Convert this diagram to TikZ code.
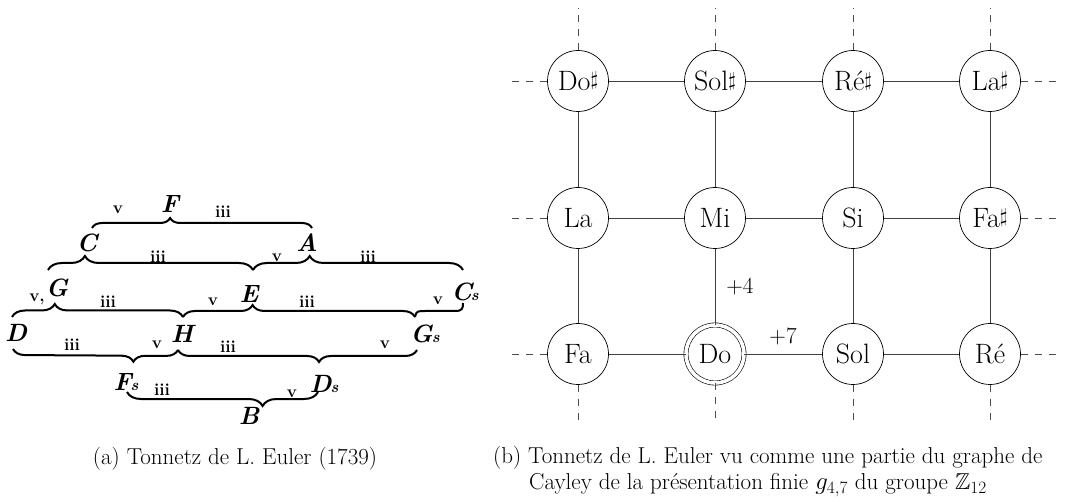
\documentclass[tikz,border=0pt]{standalone}
\usepackage{amssymb}
\usepackage{graphicx}
\usetikzlibrary{decorations.pathreplacing}
\newcommand{\shp}{\raisebox{0.16em}{\scalebox{0.8}{$\sharp$}}}
\tikzset{
  notenode/.style={circle,draw=black,line width=0.7pt,minimum size=61pt,inner sep=0pt,
    font=\fontsize{28}{30}\selectfont,fill=white},
  homenote/.style={notenode,double=white,double distance=3.6pt,line width=0.6pt,minimum size=58pt},
  gedge/.style={draw=black!75,line width=0.8pt},
  stubline/.style={draw=black!70,line width=0.8pt,dash pattern=on 7pt off 7pt},
  steplbl/.style={font=\fontsize{23}{26}\selectfont,inner sep=0pt},
  captxt/.style={font=\fontsize{23}{26}\selectfont,inner sep=0pt},
  eulerltr/.style={font=\fontsize{25}{27}\selectfont\bfseries\itshape,inner sep=0pt},
  eulernum/.style={font=\fontsize{17}{19}\selectfont\bfseries,inner sep=0pt},
  eubrace/.style={draw=black,line width=2pt,decorate,
    decoration={brace,amplitude=#1}},
}
\begin{document}
\begin{tikzpicture}[x=1pt,y=-1pt]
\useasboundingbox (0,0) rectangle (1068,502);

% ---------------- (a) Euler's Tonnetz ----------------
\draw[eubrace=10,decoration={aspect=0.355}] (92,228) -- (312,228);
\draw[eubrace=14,decoration={aspect=0.18}] (48,270) -- (253,270);
\draw[eubrace=14,decoration={aspect=0.27}] (253,270) -- (463,270);
\draw[eubrace=13,decoration={aspect=0.25}] (12,317) -- (183,317);
\draw[eubrace=12,decoration={aspect=0.30}] (183,317) -- (415,317);
\draw[line width=2pt] (415,317) .. controls (416,311) and (418,311) .. (425,311)
   -- (455,311) .. controls (462,311) and (463,309) .. (463,303);
\draw[eubrace=12,decoration={aspect=0.27}] (178,350) -- (13,349);
\draw[eubrace=12,decoration={aspect=0.41}] (417,350) -- (178,350);
\draw[eubrace=14,decoration={aspect=0.29}] (318,392) -- (127,392);

\node[eulernum] (n1) at (118,210) {v};
\node[eulerltr] (eF) at (170,204) {F};
\node[eulernum] (n2) at (223,212) {\textsc{iii}};
\node[eulerltr] (eC) at (87,243) {C};
\node[eulerltr] (eA) at (307,243) {A};
\node[eulernum] (n3) at (158,257) {\textsc{iii}};
\node[eulernum] (n4) at (277,258) {v};
\node[eulernum] (n5) at (368,257) {\textsc{iii}};
\node[eulernum] (n6) at (37,299) {v,};
\node[eulerltr] (eG) at (57,288) {G};
\node[eulernum] (n7) at (108,302) {\textsc{iii}};
\node[eulernum] (n8) at (213,302) {v};
\node[eulerltr] (eE) at (249,294) {E};
\node[eulernum] (n9) at (307,302) {\textsc{iii}};
\node[eulernum] (n10) at (438,301) {v};
\node[eulerltr] (eCs) at (465,292) {C\kern-1pt\fontsize{16}{16}\selectfont s};
\node[eulerltr] (eD) at (16,333) {D};
\node[eulerltr] (eH) at (182,334) {H};
\node[eulerltr] (eGs) at (425,334) {G\kern-1pt\fontsize{16}{16}\selectfont s};
\node[eulernum] (n11) at (72,345) {\textsc{iii}};
\node[eulernum] (n12) at (157,345) {v};
\node[eulernum] (n13) at (228,347) {\textsc{iii}};
\node[eulernum] (n14) at (385,345) {v};
\node[eulerltr] (eFs) at (126,382) {F\kern-1pt\fontsize{16}{16}\selectfont s};
\node[eulerltr] (eDs) at (324,384) {D\kern-1pt\fontsize{16}{16}\selectfont s};
\node[eulernum] (n15) at (162,390) {\textsc{iii}};
\node[eulernum] (n16) at (292,394) {v};
\node[eulerltr] (eB) at (249,416) {B};

\node[captxt,anchor=base] (capa) at (235,464) {(a) Tonnetz de L. Euler (1739)};

% ---------------- (b) Cayley graph ----------------
% row 1
\node[notenode] (cs) at (578,81) {Do\shp};
\node[notenode] (gs) at (715,81) {Sol\shp};
\node[notenode] (ds) at (853,81) {Ré\shp};
\node[notenode] (as) at (990,81) {La\shp};
% row 2
\node[notenode] (a) at (578,218) {La};
\node[notenode] (e) at (715,218) {Mi};
\node[notenode] (b) at (853,218) {Si};
\node[notenode] (fs) at (990,218) {Fa\shp};
% row 3
\node[notenode] (f) at (578,354) {Fa};
\node[homenote] (c) at (715,354) {Do};
\node[notenode] (g) at (853,354) {Sol};
\node[notenode] (d) at (990,354) {Ré};

% solid edges
\draw[gedge] (cs) -- (gs); \draw[gedge] (gs) -- (ds); \draw[gedge] (ds) -- (as);
\draw[gedge] (a) -- (e); \draw[gedge] (e) -- (b); \draw[gedge] (b) -- (fs);
\draw[gedge] (f) -- (c); \draw[gedge] (c) -- (g); \draw[gedge] (g) -- (d);
\draw[gedge] (cs) -- (a); \draw[gedge] (gs) -- (e); \draw[gedge] (ds) -- (b); \draw[gedge] (as) -- (fs);
\draw[gedge] (a) -- (f); \draw[gedge] (b) -- (g); \draw[gedge] (fs) -- (d);
\draw[gedge] (e) -- (c) node[steplbl,pos=0.5,right=11pt] (p4) {+4};
\node[steplbl] (p7) at (783,336) {+7};

% dashed stubs
\coordinate (t1) at (578,8);  \coordinate (t2) at (715,8);
\coordinate (t3) at (853,8);  \coordinate (t4) at (990,8);
\coordinate (b1) at (578,420); \coordinate (b2) at (715,420);
\coordinate (b3) at (853,420); \coordinate (b4) at (990,420);
\coordinate (l1) at (507,81); \coordinate (l2) at (507,218); \coordinate (l3) at (507,354);
\coordinate (r1) at (1062,81); \coordinate (r2) at (1062,218); \coordinate (r3) at (1062,354);
\draw[stubline] (cs) -- (t1); \draw[stubline] (gs) -- (t2); \draw[stubline] (ds) -- (t3); \draw[stubline] (as) -- (t4);
\draw[stubline] (f) -- (b1); \draw[stubline] (c) -- (b2); \draw[stubline] (g) -- (b3); \draw[stubline] (d) -- (b4);
\draw[stubline] (cs) -- (l1); \draw[stubline] (a) -- (l2); \draw[stubline] (f) -- (l3);
\draw[stubline] (as) -- (r1); \draw[stubline] (fs) -- (r2); \draw[stubline] (d) -- (r3);

\node[captxt,anchor=base west] (capb) at (493,463) {\vtop{\baselineskip=26.5pt
  \hbox{(b) Tonnetz de L. Euler vu comme une partie du graphe de}
  \hbox{\hspace*{36pt}Cayley de la présentation finie $g_{4,7}$ du groupe $\mathbb{Z}_{12}$}}};
\end{tikzpicture}
\end{document}
